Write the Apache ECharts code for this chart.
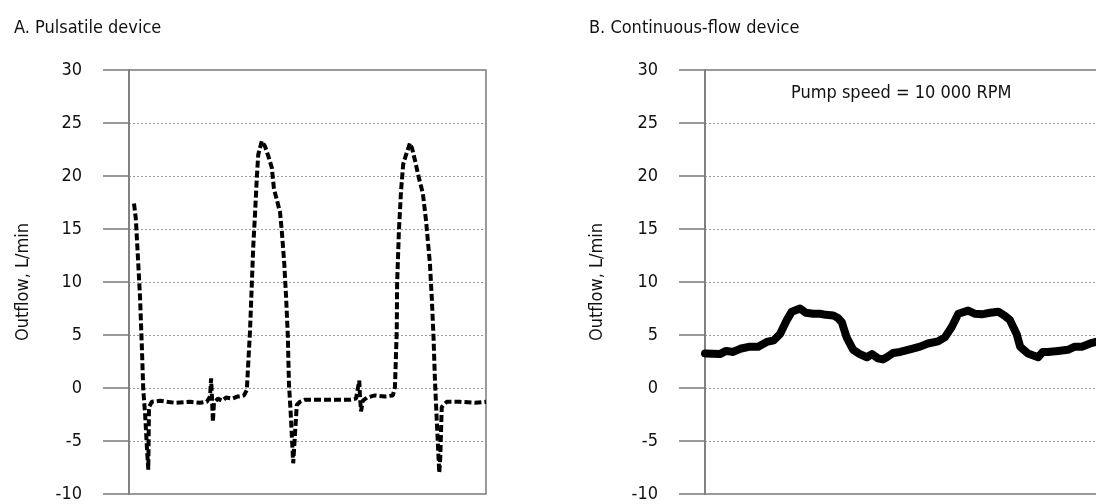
<!DOCTYPE html>
<html>
<head>
<meta charset="utf-8">
<script src="https://cdn.jsdelivr.net/npm/echarts@6/dist/echarts.min.js"></script>
<style>
  html, body { margin: 0; padding: 0; background: #fff; overflow: hidden; }
  /* wider than the window: panel B runs on past the right edge */
  #main { width: 1130px; height: 504px; }
</style>
</head>
<body>
<div id="main"></div>
<script>
// panel A: pulsatile device (time in arbitrary units 0-100)
const pulsatileTime = [1.4, 1.9, 2.1, 2.6, 3.1, 3.6, 4.0, 4.5, 5.0, 5.4, 5.6, 6.4, 8.7, 12.9, 17.1, 19.9, 21.8,
  22.7, 23.0, 23.2, 23.5, 23.8, 24.9, 26.1, 27.2, 28.9, 30.5, 32.2, 33.0, 33.4, 33.9, 34.4, 34.8, 35.3, 35.8,
  36.2, 37.2, 38.1, 39.0, 40.0, 40.6, 42.3, 42.8, 43.5, 44.0, 44.5, 44.8, 45.3, 46.0, 46.3, 47.0, 47.9, 49.3,
  53.5, 57.7, 61.9, 63.6, 64.1, 64.5, 64.7, 65.0, 65.5, 66.7, 68.9, 71.7, 73.9, 74.5, 75.0, 75.1, 75.6, 76.2,
  76.8, 77.6, 78.7, 79.3, 80.3, 81.2, 82.3, 83.2, 84.3, 84.8, 85.3, 85.7, 86.2, 86.9, 87.2, 87.6, 89.0, 92.7,
  96.9, 100]
const pulsatileFlow = [17.4, 16, 14.8, 11.7, 8.5, 3.9, -0.2, -2.4, -5.5, -7.7, -1.8, -1.3, -1.2, -1.4, -1.3, -1.4, -1.3,
  -0.8, 0.9, -0.6, -3.2, -1.4, -1.0, -1.2, -0.9, -1.0, -0.8, -0.7, -0.2, 2.3, 5.4, 9.8, 13.3, 16.4, 19.8,
  22, 23.3, 22.8, 21.9, 20.8, 18.8, 16.6, 14.8, 11.7, 8.6, 4.8, 0.4, -2.4, -7.1, -7.0, -1.6, -1.3, -1.1,
  -1.1, -1.1, -1.1, -1.0, -1.0, 0.7, -0.8, -2.2, -1.2, -0.9, -0.7, -0.8, -0.7, 0.1, 5.4, 9.8, 14.8, 18.6,
  21.1, 22, 23.1, 22.6, 21.2, 19.8, 18.4, 15.8, 11.7, 8.6, 4.8, 0.75, -3, -8, -6.5, -1.8, -1.3, -1.3,
  -1.4, -1.3]

// panel B: continuous-flow device (100 = right edge of the picture)
const continuousTime = [0, 3.8, 5.4, 7.2, 9.0, 11.5, 13.6, 15.8, 17.6, 19.2, 20.9, 22.2, 24.3, 25.8, 27.7, 29.4,
  30.9, 32.8, 34.0, 35.0, 36.2, 37.9, 39.6, 41.4, 42.7, 44.2, 45.5, 46.5, 48.1, 49.9, 52.9, 55.0, 57.0, 59.6,
  61.4, 63.1, 64.8, 67.3, 69.1, 70.8, 72.9, 75.0, 76.7, 78.0, 79.7, 80.6, 82.6, 85.2, 86.4, 87.7, 90.3, 92.8,
  94.6, 96.4, 98.5, 100]
const continuousFlow = [3.26, 3.2, 3.5, 3.4, 3.7, 3.9, 3.9, 4.35, 4.5, 5.1, 6.4, 7.2, 7.5, 7.1, 7.0, 7.0,
  6.9, 6.85, 6.6, 6.2, 4.8, 3.6, 3.2, 2.9, 3.2, 2.8, 2.7, 2.9, 3.3, 3.4, 3.7, 3.9, 4.2, 4.4,
  4.8, 5.75, 7.0, 7.3, 7.0, 6.95, 7.1, 7.2, 6.8, 6.4, 5.1, 3.9, 3.25, 2.9, 3.4, 3.4, 3.5, 3.6,
  3.9, 3.9, 4.2, 4.35]

const yTicks = [-10, 30, 5]
const panelTitles = ['A. Pulsatile device', 'B. Continuous-flow device']
const yName = 'Outflow, L/min'
const note = 'Pump speed = 10 000 RPM'

const font = "'DejaVu Sans Condensed', 'Liberation Sans Narrow', sans-serif"
const axisGray = '#7a7a7a'

function zip (xs, ys) {
  return xs.map(function (x, i) { return [x, ys[i]] })
}

function makeY (idx, gap) {
  return {
    type: 'value',
    gridIndex: idx,
    min: yTicks[0],
    max: yTicks[1],
    interval: yTicks[2],
    name: yName,
    nameLocation: 'middle',
    nameGap: gap,
    nameRotate: 90,
    nameTextStyle: { fontFamily: font, fontSize: 18, color: '#111' },
    axisLine: { show: true, lineStyle: { color: axisGray, width: 1.5 } },
    axisTick: { show: true, inside: false, length: 26, lineStyle: { color: axisGray, width: 1.5 } },
    axisLabel: { margin: 47, fontFamily: font, fontSize: 18, color: '#111', padding: [0, 0, 4, 0] },
    splitLine: { show: true, lineStyle: { color: '#9a9a9a', type: [2, 2], width: 1 } }
  }
}

const chart = echarts.init(document.getElementById('main'))

const option = {
  backgroundColor: '#fff',
  animation: false,
  title: [
    { text: panelTitles[0], left: 9, top: 14, textStyle: { fontFamily: font, fontSize: 18, fontWeight: 'normal', color: '#111' } },
    { text: panelTitles[1], left: 584, top: 14, textStyle: { fontFamily: font, fontSize: 18, fontWeight: 'normal', color: '#111' } },
    { text: note, left: 786, top: 79, textStyle: { fontFamily: font, fontSize: 18, fontWeight: 'normal', color: '#111' } }
  ],
  grid: [
    { left: 129, right: 644, top: 70, bottom: 10, show: true, borderColor: axisGray, borderWidth: 1.5, backgroundColor: 'transparent' },
    { left: 705, right: 0, top: 70, bottom: 10, show: true, borderColor: axisGray, borderWidth: 1.5, backgroundColor: 'transparent' }
  ],
  xAxis: [
    { type: 'value', gridIndex: 0, min: 0, max: 100, show: false },
    { type: 'value', gridIndex: 1, min: 0, max: 108.7, show: false }
  ],
  yAxis: [makeY(0, 97), makeY(1, 99)],
  series: [
    {
      name: 'Pulsatile',
      type: 'line',
      xAxisIndex: 0,
      yAxisIndex: 0,
      data: zip(pulsatileTime, pulsatileFlow),
      showSymbol: false,
      lineStyle: { color: '#000', width: 4, type: [7, 3] }
    },
    {
      name: 'Continuous',
      type: 'line',
      xAxisIndex: 1,
      yAxisIndex: 1,
      data: zip(continuousTime, continuousFlow),
      showSymbol: false,
      lineStyle: { color: '#000', width: 8, join: 'round', cap: 'round' }
    }
  ]
}
option && chart.setOption(option)
</script>
</body>
</html>
